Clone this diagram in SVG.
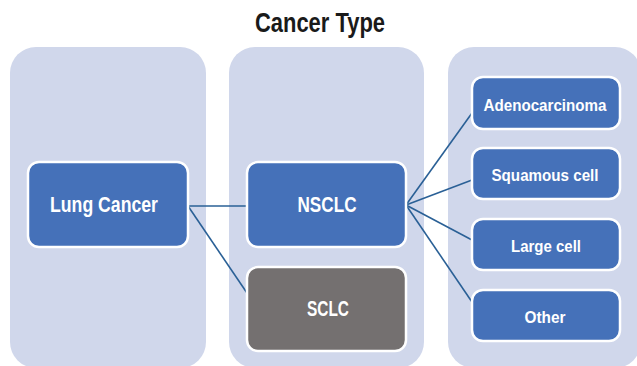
<svg xmlns="http://www.w3.org/2000/svg" width="637" height="366" viewBox="0 0 637 366">
<style>
.col{fill:#d0d7eb}
.node rect{stroke:#ffffff;stroke-width:2.5}
.blue{fill:#4571b9}
.gray{fill:#747070}
text{font-family:"Liberation Sans",Arial,sans-serif;font-weight:bold;text-anchor:middle}
.lbl{fill:#ffffff}
.conn line{stroke:#2a6096;stroke-width:1.6}
</style>
<rect width="637" height="366" fill="#ffffff"/>
<text x="320" y="32" font-size="27" fill="#1a1a1a" textLength="130" lengthAdjust="spacingAndGlyphs">Cancer Type</text>
<g id="columns">
<rect class="col" x="10" y="47" width="196" height="321" rx="26"/>
<rect class="col" x="229" y="47" width="195" height="321" rx="26"/>
<rect class="col" x="448" y="47" width="193" height="321" rx="26"/>
</g>
<g class="conn" id="connectors">
<line x1="188" y1="206" x2="248" y2="206"/>
<line x1="188" y1="206" x2="247" y2="293"/>
<line x1="406" y1="205" x2="472" y2="113"/>
<line x1="406" y1="205" x2="472" y2="180"/>
<line x1="406" y1="205" x2="472" y2="240"/>
<line x1="406" y1="205" x2="472" y2="302"/>
</g>
<g id="lung" class="node"><rect class="blue" x="28" y="162" width="160" height="85" rx="11"/><text class="lbl" x="104" y="212" font-size="22" textLength="108" lengthAdjust="spacingAndGlyphs">Lung Cancer</text></g>
<g id="nsclc" class="node"><rect class="blue" x="247" y="162" width="159" height="85" rx="11"/><text class="lbl" x="327" y="212" font-size="22" textLength="59" lengthAdjust="spacingAndGlyphs">NSCLC</text></g>
<g id="sclc" class="node"><rect class="gray" x="247" y="267" width="159" height="84" rx="11"/><text class="lbl" x="328" y="316" font-size="22" textLength="42" lengthAdjust="spacingAndGlyphs">SCLC</text></g>
<g id="adeno" class="node"><rect class="blue" x="472" y="77" width="148" height="52" rx="11"/><text class="lbl" x="545" y="111" font-size="17" textLength="123" lengthAdjust="spacingAndGlyphs">Adenocarcinoma</text></g>
<g id="squamous" class="node"><rect class="blue" x="472" y="148" width="148" height="51" rx="11"/><text class="lbl" x="545" y="181" font-size="17" textLength="107" lengthAdjust="spacingAndGlyphs">Squamous cell</text></g>
<g id="large" class="node"><rect class="blue" x="472" y="219" width="148" height="51" rx="11"/><text class="lbl" x="546" y="252" font-size="17" textLength="70" lengthAdjust="spacingAndGlyphs">Large cell</text></g>
<g id="other" class="node"><rect class="blue" x="472" y="290" width="148" height="51" rx="11"/><text class="lbl" x="545" y="323" font-size="17" textLength="41" lengthAdjust="spacingAndGlyphs">Other</text></g>
</svg>
